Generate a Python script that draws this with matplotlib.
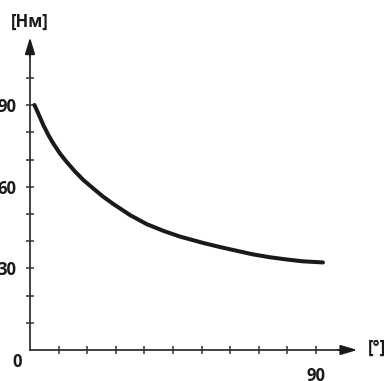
import matplotlib
matplotlib.use("Agg")
import matplotlib.pyplot as plt
from matplotlib.ticker import FixedLocator, FuncFormatter

# Data
angle_deg = [1.4, 2.6, 4.2, 5.8, 7.3, 9.4, 11.5, 14.2, 16.8, 19.9, 23.0, 26.2, 31.5, 36.7,
             42.0, 47.2, 54.4, 60.0, 65.0, 70.0, 75.5, 80.7, 85.9, 92.2]
torque_nm = [90.1, 87.0, 82.7, 79.0, 76.0, 72.3, 69.2, 65.6, 62.5, 59.4, 56.4, 53.7, 49.6, 46.3,
             43.8, 41.7, 39.4, 37.8, 36.5, 35.2, 34.1, 33.3, 32.6, 32.2]
x_ticks = [9, 18, 27, 36, 45, 54, 63, 72, 81, 90]
x_labels = {90: "90"}
y_ticks = [10, 20, 30, 40, 50, 60, 70, 80, 90, 100]
y_labels = {30: "30", 60: "60", 90: "90"}
x_unit = "[°]"
y_unit = "[Нм]"

font = ["Open Sans", "DejaVu Sans"]
plt.rcParams["font.family"] = font

fig = plt.figure(figsize=(3.84, 3.81), dpi=100)
ax = fig.add_axes([0, 0, 1, 1])
ax.set_xlim(-9.44, 111.4)
ax.set_ylim(-11.4, 128.7)

ax.plot(angle_deg, torque_nm, color="#1a1a1a", lw=2.9, solid_capstyle="round",
        solid_joinstyle="round")

for s in ["top", "right"]:
    ax.spines[s].set_visible(False)
for s in ["left", "bottom"]:
    ax.spines[s].set_position(("data", 0))
    ax.spines[s].set_color("#333333")
    ax.spines[s].set_linewidth(1.3)
ax.spines["left"].set_bounds(0, 110)
ax.spines["bottom"].set_bounds(0, 98)

ax.xaxis.set_major_locator(FixedLocator(x_ticks))
ax.yaxis.set_major_locator(FixedLocator(y_ticks))
ax.xaxis.set_major_formatter(FuncFormatter(lambda v, p: x_labels.get(int(round(v)), "")))
ax.yaxis.set_major_formatter(FuncFormatter(lambda v, p: y_labels.get(int(round(v)), "")))
ax.tick_params(axis="both", direction="inout", length=6, width=1.1, color="#333333",
               labelsize=12, labelcolor="#1a1a1a")
ax.tick_params(axis="y", pad=7)
ax.tick_params(axis="x", pad=9)
for lab in ax.get_xticklabels() + ax.get_yticklabels():
    lab.set_fontweight("bold")

# arrows
ax.annotate("", xy=(103, 0), xytext=(97, 0),
            arrowprops=dict(arrowstyle="-|>,head_length=1.0,head_width=0.3", color="#1a1a1a", lw=1.3,
                            shrinkA=0, shrinkB=0))
ax.annotate("", xy=(0, 115), xytext=(0, 108),
            arrowprops=dict(arrowstyle="-|>,head_length=1.0,head_width=0.3", color="#1a1a1a", lw=1.3,
                            shrinkA=0, shrinkB=0))

ax.text(-4.1, -4.4, "0", ha="center", va="center", fontsize=12, fontweight="bold", color="#1a1a1a")
ax.text(106.4, 0.7, x_unit, ha="left", va="center", fontsize=12, fontweight="bold", color="#1a1a1a")
ax.text(0, 120.6, y_unit, ha="center", va="center", fontsize=12, fontweight="bold", color="#1a1a1a")

fig.savefig("out.png", dpi=100)
